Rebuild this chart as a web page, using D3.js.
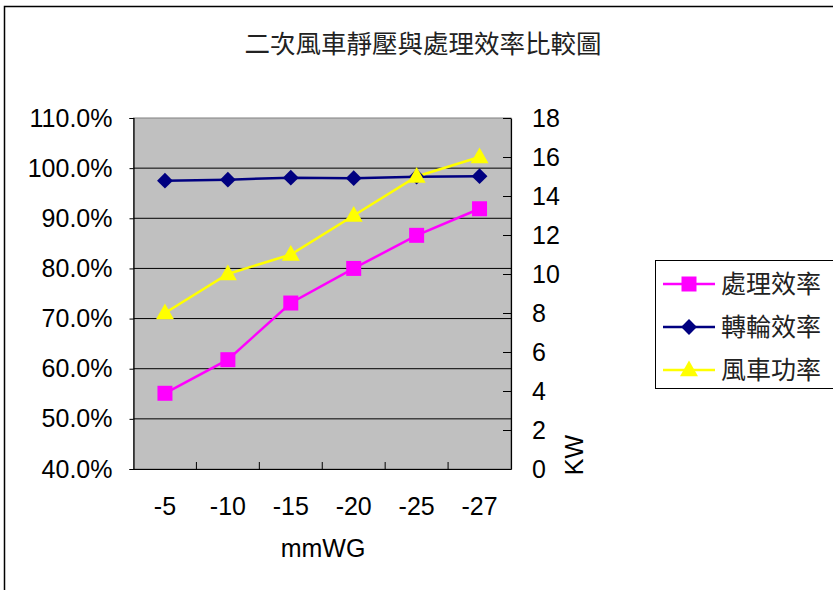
<!DOCTYPE html>
<html>
<head>
<meta charset="utf-8">
<script src="https://cdn.jsdelivr.net/npm/d3@7"></script>
<style>
  body { margin: 0; background: #fff; }
  text { font-family: "Liberation Sans", Arial, sans-serif; }
  .cjk { font-family: "Noto Sans CJK TC", "Noto Sans CJK SC", sans-serif; }
</style>
</head>
<body>
<script>
'use strict';

// chart values
const categories = ["-5", "-10", "-15", "-20", "-25", "-27"];
const treatEff = [0.551, 0.618, 0.731, 0.800, 0.866, 0.919];   // 處理效率 (left axis)
const wheelEff = [0.975, 0.977, 0.981, 0.980, 0.983, 0.984];   // 轉輪效率 (left axis)
const fanPower = [8, 10, 11, 13, 15, 16];                      // 風車功率 KW (right axis)
const leftTicks = [0.4, 0.5, 0.6, 0.7, 0.8, 0.9, 1.0, 1.1];
const rightTicks = [0, 2, 4, 6, 8, 10, 12, 14, 16, 18];
const seriesNames = ["處理效率", "轉輪效率", "風車功率"];

const plot = { left: 133.5, right: 511, top: 118, bottom: 469 };

const svg = d3.select('body')
  .append('svg')
  .attr('width', 833)
  .attr('height', 590);

// outer chart frame
svg.append('rect')
  .attr('x', 4.5).attr('y', 6.5)
  .attr('width', 840).attr('height', 600)
  .attr('fill', 'none')
  .attr('stroke', '#000')
  .attr('stroke-width', 1.5);

// title
svg.append('text')
  .attr('class', 'cjk')
  .attr('x', 423).attr('y', 53)
  .attr('text-anchor', 'middle')
  .style('font-size', '25.5px')
  .style('fill', '#222')
  .text("二次風車靜壓與處理效率比較圖");

// scales
let xScale = d3.scaleBand()
  .domain(categories)
  .range([plot.left, plot.right]);
let yLeft = d3.scaleLinear()
  .domain([0.4, 1.1])
  .range([plot.bottom, plot.top]);
let yRight = d3.scaleLinear()
  .domain([0, 18])
  .range([plot.bottom, plot.top]);

// plot background
svg.append('rect')
  .attr('x', plot.left).attr('y', plot.top)
  .attr('width', plot.right - plot.left)
  .attr('height', plot.bottom - plot.top)
  .attr('fill', '#c0c0c0')
  .attr('stroke', '#808080')
  .attr('stroke-width', 1);

// gridlines
svg.append('g')
  .selectAll('line')
  .data(leftTicks.slice(1, -1))
  .enter()
  .append('line')
  .attr('x1', plot.left).attr('x2', plot.right)
  .attr('y1', d => yLeft(d)).attr('y2', d => yLeft(d))
  .attr('stroke', '#000')
  .attr('stroke-width', 1);

// left axis
let leftAxis = d3.axisLeft(yLeft)
  .tickValues(leftTicks)
  .tickFormat(d3.format('.1%'))
  .tickSize(4)
  .tickPadding(17);
let gL = svg.append('g')
  .attr('transform', `translate(${plot.left}, 0)`)
  .call(leftAxis);

// right axis
let rightAxis = d3.axisRight(yRight)
  .tickValues(rightTicks)
  .tickSizeInner(-8)
  .tickSizeOuter(0)
  .tickPadding(21);
let gR = svg.append('g')
  .attr('transform', `translate(${plot.right}, 0)`)
  .call(rightAxis);

// bottom axis (labels only, ticks drawn between categories)
let bottomAxis = d3.axisBottom(xScale)
  .tickSize(0)
  .tickPadding(28);
let gB = svg.append('g')
  .attr('transform', `translate(0, ${plot.bottom})`)
  .call(bottomAxis);
gB.selectAll('.tick-between')
  .data(categories.slice(1))
  .enter()
  .append('line')
  .attr('x1', d => xScale(d)).attr('x2', d => xScale(d))
  .attr('y1', 0).attr('y2', -7)
  .attr('stroke', '#000');

[gL, gR, gB].forEach(g => {
  g.selectAll('.domain').attr('stroke', '#000').attr('stroke-width', 1.2);
  g.selectAll('.tick line').attr('stroke', '#000');
  g.selectAll('text')
    .style('font-size', '25px')
    .style('font-family', '"Liberation Sans", Arial, sans-serif')
    .attr('fill', '#000');
});

// axis titles
svg.append('text')
  .attr('x', 323).attr('y', 557)
  .attr('text-anchor', 'middle')
  .style('font-size', '25px')
  .text('mmWG');

svg.append('text')
  .attr('transform', 'translate(583, 455) rotate(-90)')
  .attr('text-anchor', 'middle')
  .style('font-size', '25px')
  .text('KW');

// series
let cx = d => xScale(d) + xScale.bandwidth() / 2;

function drawLine(values, yS, color) {
  svg.append('path')
    .datum(values)
    .attr('fill', 'none')
    .attr('stroke', color)
    .attr('stroke-width', 2.5)
    .attr('d', d3.line()
      .x((d, i) => cx(categories[i]))
      .y(d => yS(d)));
}

drawLine(treatEff, yLeft, '#ff00ff');
drawLine(wheelEff, yLeft, '#000080');
drawLine(fanPower, yRight, '#ffff00');

const squareSym = d3.symbol().type(d3.symbolSquare).size(225);
const diamondSym = d3.symbol().type(d3.symbolDiamond2).size(160);
const triSym = d3.symbol().type(d3.symbolTriangle).size(140);

function drawMarkers(values, yS, sym, color, dy) {
  svg.append('g')
    .selectAll('path')
    .data(values)
    .enter()
    .append('path')
    .attr('d', sym)
    .attr('transform', (d, i) => `translate(${cx(categories[i])}, ${yS(d) + (dy || 0)})`)
    .attr('fill', color);
}

drawMarkers(treatEff, yLeft, squareSym, '#ff00ff');
drawMarkers(wheelEff, yLeft, diamondSym, '#000080');
drawMarkers(fanPower, yRight, triSym, '#ffff00', 1);

// legend
let legend = svg.append('g');
legend.append('rect')
  .attr('x', 655.5).attr('y', 260.5)
  .attr('width', 200).attr('height', 128)
  .attr('fill', '#fff')
  .attr('stroke', '#000')
  .attr('stroke-width', 1);

const legendColors = ['#ff00ff', '#000080', '#ffff00'];
const legendSyms = [squareSym, diamondSym, triSym];
const legendY = [284, 327, 370];

seriesNames.forEach((name, i) => {
  legend.append('line')
    .attr('x1', 663).attr('x2', 715)
    .attr('y1', legendY[i]).attr('y2', legendY[i])
    .attr('stroke', legendColors[i])
    .attr('stroke-width', 2.5);
  legend.append('path')
    .attr('d', legendSyms[i])
    .attr('transform', `translate(689, ${legendY[i] + (i == 2 ? 1 : 0)})`)
    .attr('fill', legendColors[i]);
  legend.append('text')
    .attr('class', 'cjk')
    .attr('x', 721).attr('y', legendY[i])
    .attr('dy', '0.36em')
    .style('font-size', '25px')
    .style('fill', '#222')
    .text(name);
});
</script>
</body>
</html>
